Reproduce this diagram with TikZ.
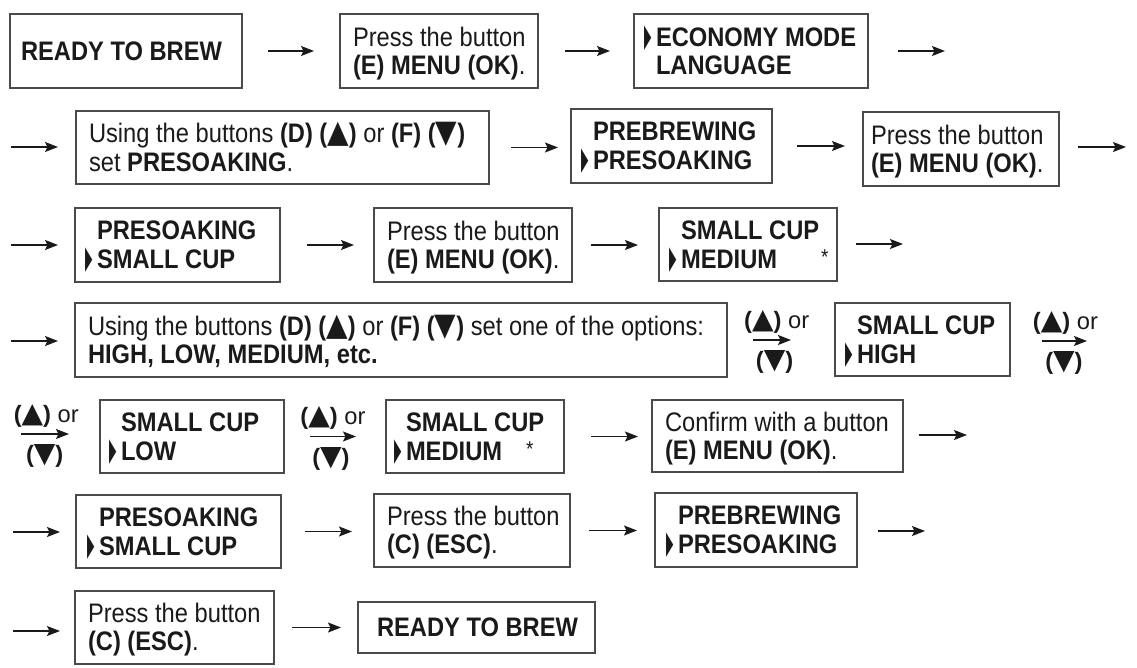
\documentclass[tikz,border=0pt]{standalone}
\usepackage{fontspec}
\usepackage{graphicx}
\setmainfont{Liberation Sans}
\newfontfamily\djfont{DejaVu Sans}
\usetikzlibrary{arrows.meta}
\definecolor{txt}{HTML}{1A1A1A}
\definecolor{frame}{HTML}{4A4A4A}
\newcommand\mk{\makebox[12pt][l]{\raisebox{0pt}{\scalebox{0.4}[1.2]{\djfont ▶}}}}
\newcommand\nomk{\hspace*{12pt}}
\newcommand\tup{{\djfont\fontsize{28}{28}\selectfont ▲}}
\newcommand\tdn{{\djfont\fontsize{28}{28}\selectfont ▼}}
\newcommand\mystar{\raisebox{3pt}{\fontsize{19}{19}\selectfont *}}
\newcommand\bx[7]{%
  \pgfmathsetmacro\bw{#4-#2-2*#6}%
  \pgfmathsetmacro\bh{#5-#3}%
  \node[box, anchor=north west, inner xsep=#6pt, minimum height=\bh pt] (#1) at (#2,#3)
    {\makebox[\bw pt][l]{\raisebox{-3.5pt}[\height][\depth]{\scalebox{1}[1.13]{\begin{tabular}{@{}l@{}}#7\end{tabular}}}}};}
\begin{document}
\begin{tikzpicture}[x=1pt, y=-1pt,
  box/.style={draw=frame, line width=1.5pt, rectangle, outer sep=0pt, inner ysep=0pt,
    text=txt, font=\fontsize{23.7}{25}\selectfont},
  arr/.style={draw=txt, line width=1.4pt, -{Stealth[length=13pt,width=10pt,inset=2.5pt]}},
  lab/.style={text=txt, inner sep=0pt, font=\fontsize{23.7}{28}\selectfont}]
\useasboundingbox (0,0) rectangle (1137,668);
% row 1
\bx{A}{10}{14}{242}{88}{11}{\textbf{READY TO BREW}}
\bx{B}{340}{14}{538}{88}{13}{Press the button\\\textbf{(E) MENU (OK)}.}
\bx{C}{634}{14}{868}{88}{10}{\mk\textbf{ECONOMY MODE}\\\nomk\textbf{LANGUAGE}}
\coordinate (e1) at (945,51);
% row 2
\coordinate (s2) at (11,147);
\bx{D}{76}{111}{489}{184}{13}{Using the buttons \textbf{(D) (\tup)} or \textbf{(F) (\tdn)}\\set \textbf{PRESOAKING}.}
\bx{E}{571}{109}{772}{183}{10}{\nomk\textbf{PREBREWING}\\\mk\textbf{PRESOAKING}}
\bx{F}{863}{112}{1059}{186}{8}{Press the button\\\textbf{(E) MENU (OK)}.}
\coordinate (e2) at (1126,147);
% row 3
\coordinate (s3) at (11,245);
\bx{G}{75}{208}{280}{282}{10}{\nomk\textbf{PRESOAKING}\\\mk\textbf{SMALL CUP}}
\bx{H}{374}{208}{572}{282}{13}{Press the button\\\textbf{(E) MENU (OK)}.}
\bx{I}{659}{208}{837}{281}{10}{\nomk\textbf{SMALL CUP}\\\mk\textbf{MEDIUM}\hspace{44pt}\mystar}
\coordinate (e3) at (903,244);
% row 4
\coordinate (s4) at (11,341);
\bx{J}{75}{303}{727}{377}{13}{Using the buttons \textbf{(D) (\tup)} or \textbf{(F) (\tdn)} set one of the options:\\\textbf{HIGH, LOW, MEDIUM, etc.}}
\bx{K}{835}{303}{1010}{376}{10}{\nomk\textbf{SMALL CUP}\\\mk\textbf{HIGH}}
\coordinate (e4) at (1087,341);
% row 5
\coordinate (s5) at (21,434);
\bx{L}{100}{400}{284}{473}{9}{\nomk\textbf{SMALL CUP}\\\mk\textbf{LOW}}
\bx{M}{386}{400}{564}{473}{8}{\nomk\textbf{SMALL CUP}\\\mk\textbf{MEDIUM}\hspace{24pt}\mystar}
\bx{N}{652}{400}{903}{472}{13}{Confirm with a button\\\textbf{(E) MENU (OK)}.}
\coordinate (e5) at (967,435);
% row 6
\coordinate (s6) at (13,532);
\bx{O}{76}{495}{281}{568}{11}{\nomk\textbf{PRESOAKING}\\\mk\textbf{SMALL CUP}}
\bx{P}{374}{494}{570}{567}{13}{Press the button\\\textbf{(C) (ESC)}.}
\bx{Q}{655}{493}{857}{567}{11}{\nomk\textbf{PREBREWING}\\\mk\textbf{PRESOAKING}}
\coordinate (e6) at (925,531);
% row 7
\coordinate (s7) at (13,631);
\bx{R}{75}{591}{274}{664}{13}{Press the button\\\textbf{(C) (ESC)}.}
\bx{S}{358}{602}{595}{653}{19}{\textbf{READY TO BREW}}
% connectors
\draw[arr, shorten <=26pt, shorten >=26pt] (A.east) -- (A.east -| B.west);
\draw[arr, shorten <=27pt, shorten >=24pt] (B.east) -- (B.east -| C.west);
\draw[arr, shorten <=30pt] (C.east |- e1) -- (e1);
\draw[arr, shorten >=18pt] (s2) -- (s2 -| D.west);
\draw[arr, shorten <=22pt, shorten >=13pt] (D.east) -- (D.east -| E.west);
\draw[arr, shorten <=25pt, shorten >=18pt] (E.east) -- (E.east -| F.west);
\draw[arr, shorten <=19pt] (F.east |- e2) -- (e2);
\draw[arr, shorten >=17pt] (s3) -- (s3 -| G.west);
\draw[arr, shorten <=27pt, shorten >=20pt] (G.east) -- (G.east -| H.west);
\draw[arr, shorten <=19pt, shorten >=21pt] (H.east) -- (H.east -| I.west);
\draw[arr, shorten <=19pt] (I.east |- e3) -- (e3);
\draw[arr, shorten >=17pt] (s4) -- (s4 -| J.west);
\draw[arr, shorten <=26pt, shorten >=44pt] (J.east) -- (J.east -| K.west)
  node[lab, pos=0.46, above=6pt] {\textbf{(\tup)} or}
  node[lab, pos=0.44, below=10pt] {\textbf{(\tdn)}};
\draw[arr, shorten <=32pt] (K.east |- e4) -- (e4)
  node[lab, pos=0.72, above=6pt] {\textbf{(\tup)} or}
  node[lab, pos=0.7, below=10pt] {\textbf{(\tdn)}};
\draw[arr, shorten >=31pt] (s5) -- (s5 -| L.west)
  node[lab, pos=0.32, above=6pt] {\textbf{(\tup)} or}
  node[lab, pos=0.3, below=10pt] {\textbf{(\tdn)}};
\draw[arr, shorten <=26pt, shorten >=30pt] (L.east) -- (L.east -| M.west)
  node[lab, pos=0.48, above=6pt] {\textbf{(\tup)} or}
  node[lab, pos=0.46, below=10pt] {\textbf{(\tdn)}};
\draw[arr, shorten <=27pt, shorten >=14pt] (M.east) -- (M.east -| N.west);
\draw[arr, shorten <=16pt] (N.east |- e5) -- (e5);
\draw[arr, shorten >=16pt] (s6) -- (s6 -| O.west);
\draw[arr, shorten <=24pt, shorten >=22pt] (O.east) -- (O.east -| P.west);
\draw[arr, shorten <=19pt, shorten >=18pt] (P.east) -- (P.east -| Q.west);
\draw[arr, shorten <=21pt] (Q.east |- e6) -- (e6);
\draw[arr, shorten >=15pt] (s7) -- (s7 -| R.west);
\draw[arr, shorten <=18pt, shorten >=17pt] (R.east) -- (R.east -| S.west);
\end{tikzpicture}
\end{document}
